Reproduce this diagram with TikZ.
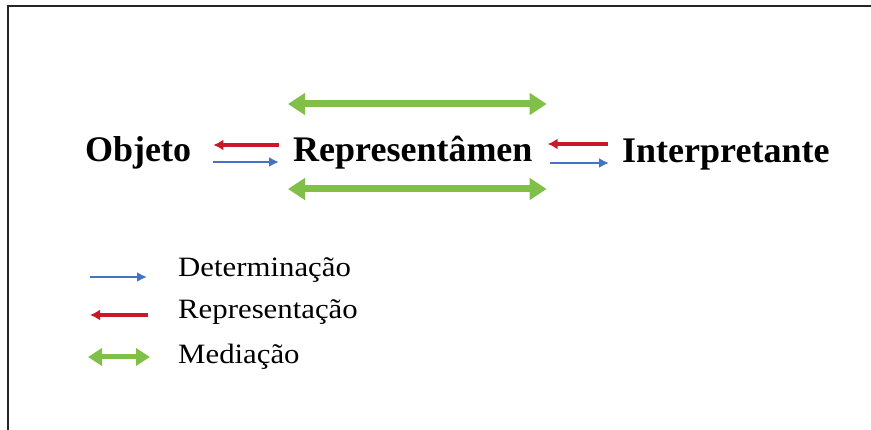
\documentclass[tikz,border=0pt]{standalone}
\usepackage{fontspec}
\setmainfont{Liberation Serif}
\newfontfamily\legfont[FakeStretch=1.1]{Liberation Serif}
\usepackage{xcolor}
\usepackage{tikz}
\usetikzlibrary{calc}
\usetikzlibrary{arrows.meta}
\definecolor{detblue}{RGB}{68,114,196}
\definecolor{repred}{RGB}{200,25,40}
\definecolor{medgreen}{RGB}{128,192,72}
\newcommand{\bigtxt}[1]{\fontsize{36}{40}\selectfont\textbf{#1}}
\newcommand{\legtxt}[1]{{\legfont\fontsize{28}{32}\selectfont #1}}

\begin{document}
\begin{tikzpicture}[x=1pt,y=-1pt,
	word/.style={inner sep=0pt,anchor=base west},
	det/.style={draw=detblue,line width=2.5pt,-{Latex[length=10pt,width=10pt]}},
	repr/.style={draw=repred,line width=3.3pt,-{Latex[length=10pt,width=11pt]}},
	med/.style={draw=medgreen,line width=7pt,{Triangle[length=17pt,width=21pt]}-{Triangle[length=17pt,width=21pt]}}]
			\useasboundingbox (0,0) rectangle (871,430);
			%frame
			\draw [line width=2pt,black!85] (8,430) -- (8,6) -- (871,6);
			%elements
			\node [word] at (85,162) (obj) {\bigtxt{Objeto}};
			\node [word] at (293,162) (rep) {\bigtxt{Representâmen}};
			\node [word] at (622,163) (int) {\bigtxt{Interpretante}};

			% arrows between the three
			\draw [repr] ($(rep.base west)+(-14,-17)$) -- ($(obj.base east)+(22,-17)$);
			\draw [det] ($(obj.base east)+(22,0)$) -- ($(rep.base west)+(-14,0)$);
			\draw [repr] ($(int.base west)+(-14,-19)$) -- ($(rep.base east)+(15,-18)$);
			\draw [det] ($(rep.base east)+(17,1)$) -- ($(int.base west)+(-13,0)$);

			% mediation
			\draw [med] ($(rep.base west)+(-5,-58)$) -- ($(rep.base east)+(14,-58)$);
			\draw [med] ($(rep.base west)+(-5,27)$) -- ($(rep.base east)+(14,27)$);

			% legend
			\node [word] at (178,277) (legdet) {\legtxt{Determinação}};
			\node [word] at (178,319) (legrep) {\legtxt{Representação}};
			\node [word] at (178,364) (legmed) {\legtxt{Mediação}};

			\draw [det] ($(legdet.base west)+(-88,0)$) -- ($(legdet.base west)+(-31,0)$);
			\draw [repr] ($(legrep.base west)+(-30,-4)$) -- ($(legrep.base west)+(-88,-4)$);
			\draw [med,{Triangle[length=14pt,width=17pt]}-{Triangle[length=14pt,width=17pt]},line width=5pt] ($(legmed.base west)+(-90,-7)$) -- ($(legmed.base west)+(-28,-7)$);
		\end{tikzpicture}
\end{document}
